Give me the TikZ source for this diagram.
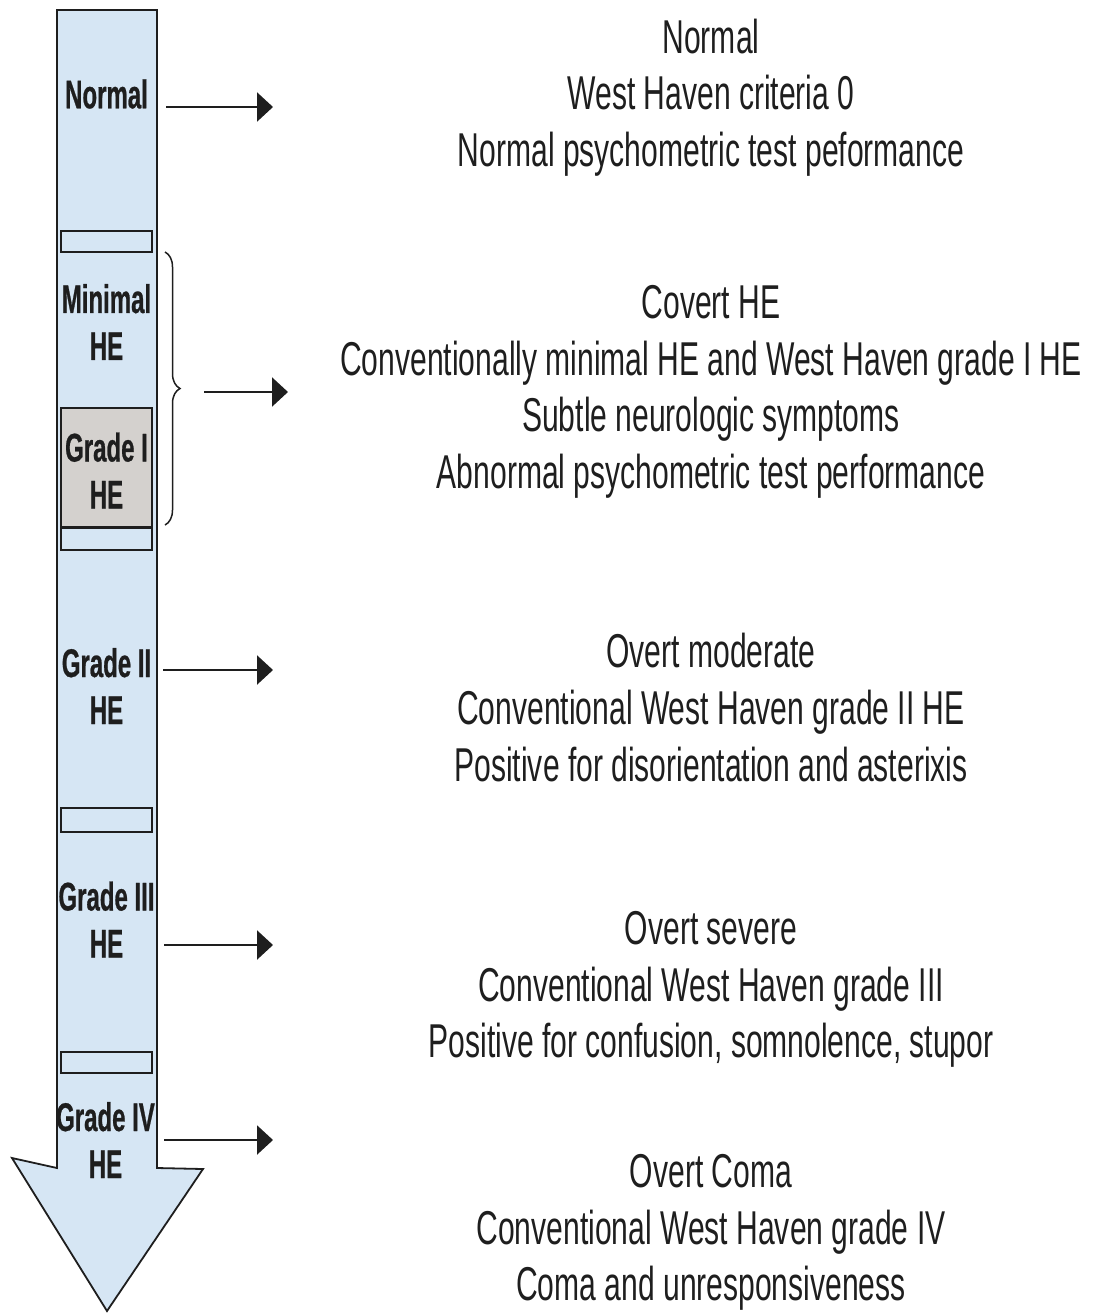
\documentclass[tikz,border=0pt]{standalone}
\usepackage{fontspec}
\setmainfont{Liberation Sans}
% condensed faces for the descriptions and the grade labels
\newfontfamily\descfont{Liberation Sans}[FakeStretch=0.633]
\newfontfamily\gradefont{Liberation Sans}[FakeStretch=0.60, FakeBold=0.6]
\usetikzlibrary{arrows.meta,decorations.pathreplacing}

\definecolor{shaftblue}{RGB}{214,230,244}
\definecolor{gradegrey}{RGB}{212,209,206}
\definecolor{inkdark}{RGB}{30,30,30}

\tikzset{
  shaft/.style={draw=inkdark, line width=1.8pt, fill=shaftblue, line join=miter},
  bandbox/.style={draw=inkdark, line width=2.6pt, fill=shaftblue},
  greybox/.style={draw=inkdark, line width=2.6pt, fill=gradegrey},
  gradelabel/.style={inner sep=0pt, align=center, text=inkdark,
    font=\gradefont\bfseries\fontsize{40}{47}\selectfont},
  desc/.style={inner sep=0pt, align=center, text=inkdark,
    font=\descfont\fontsize{47.5}{56.6}\selectfont},
  pointer/.style={draw=inkdark, line width=2.2pt,
    -{Triangle[length=16pt,width=29pt]}},
  bracket/.style={draw=inkdark, line width=1.5pt,
    decorate, decoration={brace, amplitude=15pt}}
}

\begin{document}
\begin{tikzpicture}[x=1pt,y=-1pt]
\useasboundingbox (0,0) rectangle (1096,1315);

% the downward progression arrow
\draw[shaft] (57,10) -- (157,10) -- (157,1168) -- (203,1169)
  -- (107,1311) -- (12,1158) -- (57,1168) -- cycle;

% separating bands and the grade I block
\draw[bandbox] (61,231) rectangle (152,252);
\draw[greybox] (61,408) rectangle (152,527);
\draw[bandbox] (61,528) rectangle (152,550);
\draw[bandbox] (61,808) rectangle (152,832);
\draw[bandbox] (61,1052) rectangle (152,1073);

% labels inside the arrow
\node[gradelabel] (lnormal) at (106.5,94) {Normal};
\node[gradelabel] (lminimal) at (106.5,322) {Minimal\\HE};
\node[gradelabel] (lgradeI) at (106.5,470.5) {Grade I\\HE};
\node[gradelabel] (lgradeII) at (106.5,686) {Grade II\\HE};
\node[gradelabel] (lgradeIII) at (106.5,919.5) {Grade III\\HE};
\node[gradelabel] (lgradeIV) at (105.5,1140) {Grade IV\\HE};

% brace grouping minimal HE and grade I HE
\coordinate (btop) at (165,252);
\coordinate (bbot) at (165,525);
\draw[bracket] (btop) -- (bbot);

% pointers to the descriptions
\coordinate (s1) at (166,107);  \coordinate (e1) at (273,107);
\coordinate (s2) at (204,392);  \coordinate (e2) at (288,392);
\coordinate (s3) at (163,670);  \coordinate (e3) at (273,670);
\coordinate (s4) at (164,945);  \coordinate (e4) at (273,945);
\coordinate (s5) at (164,1140); \coordinate (e5) at (273,1140);
\draw[pointer] (s1) -- (e1);
\draw[pointer] (s2) -- (e2);
\draw[pointer] (s3) -- (e3);
\draw[pointer] (s4) -- (e4);
\draw[pointer] (s5) -- (e5);

% descriptions
\node[desc] (dnormal) at (711,97.5)
  {Normal\\West Haven criteria 0\\Normal psychometric test peformance};
\node[desc] (dcovert) at (711,392)
  {Covert HE\\Conventionally minimal HE and West Haven grade I HE\\Subtle neurologic symptoms\\Abnormal psychometric test performance};
\node[desc] (dmoderate) at (711,707.5)
  {Overt moderate\\Conventional West Haven grade II HE\\Positive for disorientation and asterixis};
\node[desc] (dsevere) at (711,989.5)
  {Overt severe\\Conventional West Haven grade III\\Positive for confusion, somnolence, stupor};
\node[desc] (dcoma) at (711,1232.5)
  {Overt Coma\\Conventional West Haven grade IV\\Coma and unresponsiveness};
\end{tikzpicture}
\end{document}
